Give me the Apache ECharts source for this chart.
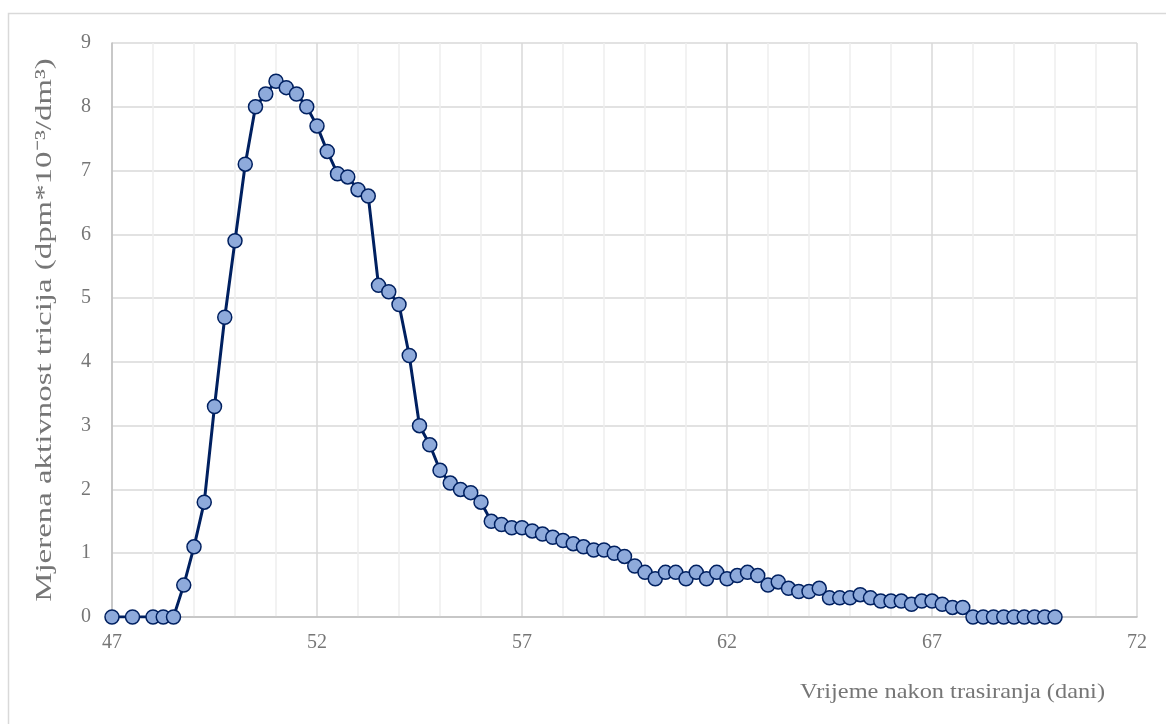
<!DOCTYPE html>
<html>
<head>
<meta charset="utf-8">
<script src="https://cdn.jsdelivr.net/npm/echarts@6/dist/echarts.min.js"></script>
<style>html,body{margin:0;padding:0;background:#fff}#c{width:1166px;height:724px}</style>
</head>
<body>
<div id="c"></div>
<script>
const days = [47, 47.5, 48, 48.25, 48.5, 48.75, 49, 49.25, 49.5, 49.75, 50, 50.25, 50.5, 50.75, 51, 51.25, 51.5, 51.75, 52, 52.25, 52.5, 52.75, 53, 53.25, 53.5, 53.75, 54, 54.25, 54.5, 54.75, 55, 55.25, 55.5, 55.75, 56, 56.25, 56.5, 56.75, 57, 57.25, 57.5, 57.75, 58, 58.25, 58.5, 58.75, 59, 59.25, 59.5, 59.75, 60, 60.25, 60.5, 60.75, 61, 61.25, 61.5, 61.75, 62, 62.25, 62.5, 62.75, 63, 63.25, 63.5, 63.75, 64, 64.25, 64.5, 64.75, 65, 65.25, 65.5, 65.75, 66, 66.25, 66.5, 66.75, 67, 67.25, 67.5, 67.75, 68, 68.25, 68.5, 68.75, 69, 69.25, 69.5, 69.75, 70];
const activity = [0, 0, 0, 0, 0, 0.5, 1.1, 1.8, 3.3, 4.7, 5.9, 7.1, 8.0, 8.2, 8.4, 8.3, 8.2, 8.0, 7.7, 7.3, 6.95, 6.9, 6.7, 6.6, 5.2, 5.1, 4.9, 4.1, 3.0, 2.7, 2.3, 2.1, 2.0, 1.95, 1.8, 1.5, 1.45, 1.4, 1.4, 1.35, 1.3, 1.25, 1.2, 1.15, 1.1, 1.05, 1.05, 1.0, 0.95, 0.8, 0.7, 0.6, 0.7, 0.7, 0.6, 0.7, 0.6, 0.7, 0.6, 0.65, 0.7, 0.65, 0.5, 0.55, 0.45, 0.4, 0.4, 0.45, 0.3, 0.3, 0.3, 0.35, 0.3, 0.25, 0.25, 0.25, 0.2, 0.25, 0.25, 0.2, 0.15, 0.15, 0, 0, 0, 0, 0, 0, 0, 0, 0];
const xTitle = 'Vrijeme nakon trasiranja (dani)';
const yTitle = 'Mjerena aktivnost tricija (dpm*10\u207B\u00B3/dm\u00B3)';

const chart = echarts.init(document.getElementById('c'));
const font = 'Liberation Serif';
const grey = '#767676';
chart.setOption({
  animation: false,
  backgroundColor: '#fff',
  textStyle: { fontFamily: font },
  graphic: [
    {
      type: 'rect', shape: { x: 8.5, y: 13.5, width: 1200, height: 800 },
      style: { fill: 'none', stroke: '#d9d9d9', lineWidth: 1.5 }, silent: true, z: -10
    },
    {
      type: 'text', x: 45, y: 330, rotation: Math.PI / 2, scaleX: 1.43,
      style: { text: yTitle, fontFamily: font, fontSize: 23, fill: grey, align: 'center', verticalAlign: 'middle' },
      silent: true
    },
    {
      type: 'text', x: 1105, y: 692, scaleX: 1.16,
      style: { text: xTitle, fontFamily: font, fontSize: 21, fill: grey, align: 'right', verticalAlign: 'middle' },
      silent: true
    }
  ],
  grid: { left: 112, right: 29, top: 43, bottom: 107 },
  xAxis: {
    type: 'value', min: 47, max: 72, interval: 5,
    axisLine: { show: true, lineStyle: { color: '#bfbfbf', width: 1.5 } },
    axisTick: { show: false },
    axisLabel: { fontFamily: font, fontSize: 20, color: grey, margin: 16 },
    splitLine: { show: true, lineStyle: { color: '#d9d9d9', width: 1.5 } },
    minorTick: { show: false, splitNumber: 5 },
    minorSplitLine: { show: true, lineStyle: { color: '#eeeeee', width: 1.5 } }
  },
  yAxis: {
    type: 'value', min: 0, max: 9, interval: 1,
    axisLine: { show: true, lineStyle: { color: '#bfbfbf', width: 1.5 } },
    axisTick: { show: false },
    axisLabel: { fontFamily: font, fontSize: 20, color: grey, margin: 21 },
    splitLine: { show: true, lineStyle: { color: '#d9d9d9', width: 1.5 } }
  },
  series: [{
    type: 'line',
    data: days.map((d, i) => [d, activity[i]]),
    symbol: 'circle', symbolSize: 14,
    lineStyle: { color: '#002060', width: 3 },
    itemStyle: { color: '#8eaadb', borderColor: '#002060', borderWidth: 1.5 },
    z: 5
  }]
});
</script>
</body>
</html>
